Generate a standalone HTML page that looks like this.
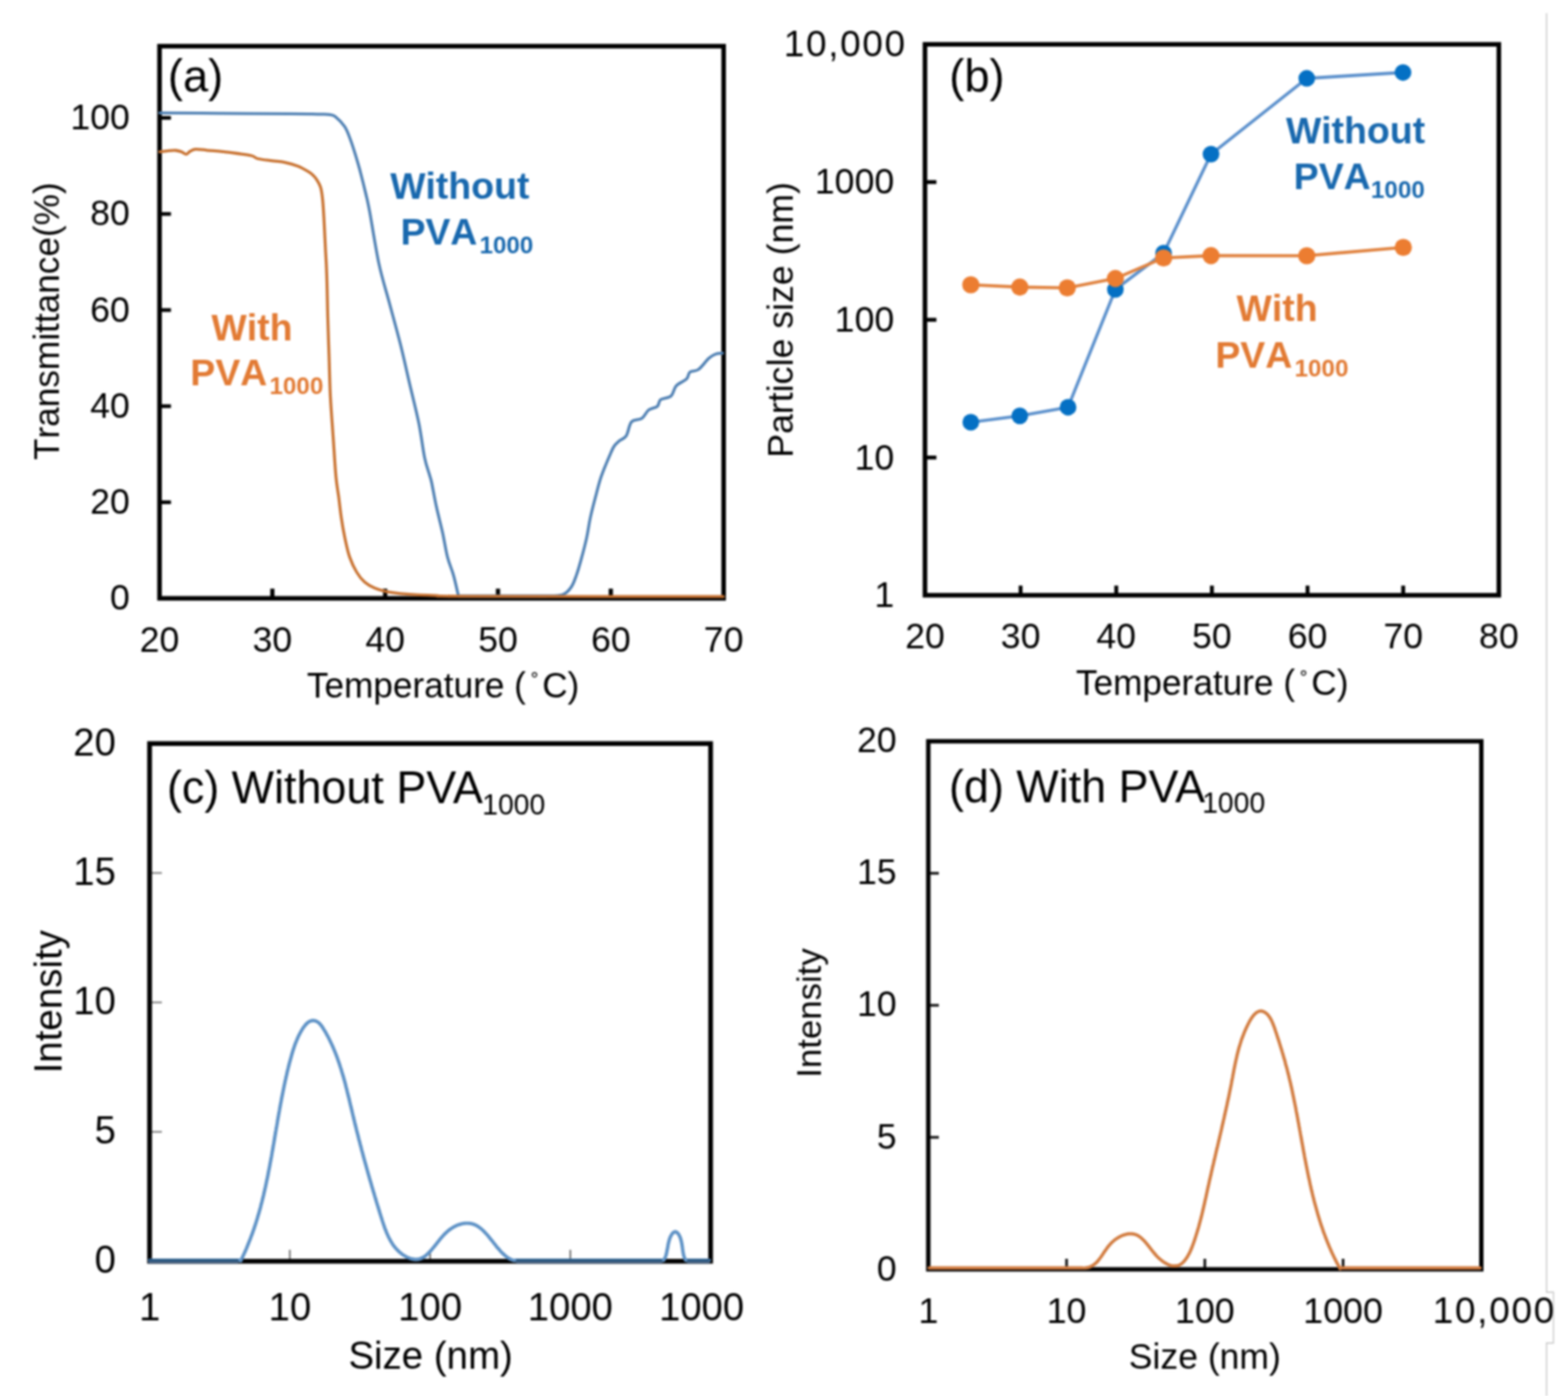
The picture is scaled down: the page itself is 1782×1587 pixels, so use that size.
<!DOCTYPE html>
<html><head><meta charset="utf-8"><title>Figure</title>
<style>
html,body{margin:0;padding:0;background:#fff;}
body{width:1782px;height:1587px;overflow:hidden;}
svg{display:block;filter:blur(0.8px);}
text{font-kerning:none;}
</style></head>
<body>
<svg width="1782" height="1587" viewBox="0 0 1782 1587">
<rect x="0" y="0" width="1782" height="1587" fill="#fff"/>
<line x1="309.52" y1="680.20" x2="309.52" y2="669.20" stroke="#000" stroke-width="4.80" stroke-linecap="butt"/>
<line x1="437.74" y1="680.20" x2="437.74" y2="669.20" stroke="#000" stroke-width="4.80" stroke-linecap="butt"/>
<line x1="565.96" y1="680.20" x2="565.96" y2="669.20" stroke="#000" stroke-width="4.80" stroke-linecap="butt"/>
<line x1="694.18" y1="680.20" x2="694.18" y2="669.20" stroke="#000" stroke-width="4.80" stroke-linecap="butt"/>
<line x1="181.30" y1="570.96" x2="194.30" y2="570.96" stroke="#000" stroke-width="4.20" stroke-linecap="butt"/>
<line x1="181.30" y1="461.72" x2="194.30" y2="461.72" stroke="#000" stroke-width="4.20" stroke-linecap="butt"/>
<line x1="181.30" y1="352.48" x2="194.30" y2="352.48" stroke="#000" stroke-width="4.20" stroke-linecap="butt"/>
<line x1="181.30" y1="243.24" x2="194.30" y2="243.24" stroke="#000" stroke-width="4.20" stroke-linecap="butt"/>
<line x1="181.30" y1="134.00" x2="194.30" y2="134.00" stroke="#000" stroke-width="4.20" stroke-linecap="butt"/>
<rect x="181.30" y="52.50" width="641.10" height="627.70" fill="none" stroke="#000" stroke-width="5.20"/>
<path d="M181.5 128.3 C192.9 128.4 225.2 128.6 250.0 128.8 C274.8 129.0 312.5 129.2 330.0 129.4 C347.5 129.6 348.8 129.6 355.0 129.7 C361.2 129.8 363.7 129.8 367.0 129.9 C370.3 130.0 372.7 130.0 375.0 130.4 C377.3 130.8 378.2 130.2 381.0 132.5 C383.8 134.8 388.9 139.7 391.7 143.9 C394.5 148.1 395.8 152.2 397.8 157.5 C399.8 162.8 401.8 169.0 403.8 175.6 C405.8 182.2 407.9 189.2 409.9 196.8 C411.9 204.4 414.2 213.8 415.9 221.0 C417.6 228.2 417.5 226.8 420.0 240.0 C422.5 253.2 426.9 282.4 430.7 300.0 C434.5 317.6 438.8 330.3 442.8 345.4 C446.8 360.5 451.1 375.6 454.9 390.7 C458.7 405.8 462.0 421.0 465.5 436.1 C469.0 451.2 473.3 467.5 476.1 481.5 C478.9 495.5 480.5 510.2 482.5 520.0 C484.5 529.8 486.9 535.3 488.2 540.0 C489.5 544.7 489.2 542.3 490.5 548.4 C491.8 554.5 494.0 567.2 496.1 576.7 C498.2 586.2 500.8 595.7 502.9 605.1 C505.0 614.5 506.5 625.2 508.6 633.4 C510.7 641.5 513.3 646.6 515.4 654.0 C517.5 661.4 520.1 673.6 521.0 677.5 L620.0 677.5 C623.2 677.2 634.6 677.7 639.5 676.0 C644.4 674.3 646.7 671.0 649.3 667.2 C651.9 663.5 653.2 659.0 655.2 653.5 C657.2 648.0 659.0 641.2 661.0 634.0 C663.0 626.8 665.3 618.0 666.9 610.5 C668.5 603.0 669.2 596.5 670.8 589.0 C672.4 581.5 674.6 573.1 676.6 565.6 C678.6 558.1 680.5 550.3 682.5 544.1 C684.5 537.9 686.4 533.4 688.4 528.5 C690.4 523.6 692.6 518.4 694.2 514.8 C695.8 511.2 696.5 509.3 698.1 507.0 C699.7 504.7 701.7 503.1 704.0 501.1 C706.3 499.2 709.5 498.9 711.8 495.3 C714.1 491.7 714.8 482.9 717.7 479.6 C720.6 476.3 726.1 478.0 729.4 475.7 C732.6 473.4 734.3 468.3 737.2 466.0 C740.1 463.7 744.7 464.0 747.0 462.0 C749.3 460.0 748.3 456.1 750.9 454.2 C753.5 452.2 759.7 452.9 762.6 450.3 C765.5 447.7 765.6 441.9 768.5 438.6 C771.4 435.4 777.6 433.4 780.2 430.8 C782.8 428.2 781.8 424.8 784.1 423.0 C786.4 421.2 790.3 422.6 793.9 420.0 C797.5 417.4 802.4 410.2 805.6 407.3 C808.9 404.4 810.8 403.5 813.4 402.5 C816.0 401.5 819.7 401.7 821.0 401.5" fill="none" stroke="#4f80b3" stroke-width="3.30" stroke-linejoin="round" stroke-linecap="round"/>
<path d="M181.5 172.6 C182.9 172.4 187.0 171.9 190.0 171.6 C193.0 171.3 197.0 170.8 199.7 171.0 C202.4 171.2 204.0 171.8 206.0 172.5 C208.0 173.2 210.1 175.4 211.8 175.3 C213.5 175.2 214.2 172.9 216.0 172.0 C217.8 171.1 219.1 169.8 222.3 169.6 C225.5 169.4 229.9 170.3 235.0 170.8 C240.1 171.3 246.8 171.8 252.6 172.4 C258.4 173.0 264.4 173.7 270.0 174.5 C275.6 175.3 282.0 176.0 285.9 177.0 C289.8 178.0 289.4 179.5 293.4 180.5 C297.4 181.5 304.9 182.1 310.0 182.8 C315.1 183.5 318.9 183.6 323.7 184.6 C328.5 185.6 334.3 187.2 338.8 189.0 C343.3 190.8 348.0 193.6 350.9 195.3 C353.8 197.1 354.5 198.0 356.0 199.5 C357.5 201.0 358.6 202.0 360.0 204.3 C361.4 206.6 363.4 209.4 364.5 213.4 C365.6 217.4 366.2 222.2 366.8 228.5 C367.4 234.8 367.8 242.4 368.3 251.2 C368.8 260.0 369.3 271.4 369.8 281.5 C370.3 291.6 370.9 298.5 371.3 311.7 C371.8 324.9 372.1 344.8 372.5 360.5 C372.9 376.2 373.5 390.8 374.0 405.9 C374.5 421.0 374.7 436.1 375.5 451.2 C376.3 466.3 377.6 481.5 378.6 496.6 C379.7 511.7 380.7 530.5 381.8 542.0 C382.9 553.5 384.0 557.7 385.0 565.4 C386.0 573.1 386.7 580.4 387.8 588.0 C388.9 595.6 390.2 603.2 391.8 610.8 C393.4 618.4 395.1 626.8 397.4 633.4 C399.7 640.0 402.5 645.8 405.4 650.5 C408.2 655.2 411.1 658.8 414.5 661.8 C417.9 664.8 421.7 666.8 425.8 668.6 C429.9 670.4 433.3 671.5 439.4 672.6 C445.4 673.7 452.7 674.6 462.1 675.4 C471.6 676.1 484.8 676.7 496.1 677.1 C507.4 677.5 475.7 677.7 530.0 677.9 C584.3 678.1 773.3 678.2 822.0 678.2" fill="none" stroke="#c8712f" stroke-width="3.30" stroke-linejoin="round" stroke-linecap="round"/>
<text x="147.60" y="693.40" text-anchor="end" fill="#000" style="font-family:'Liberation Sans',Arial,sans-serif;font-size:40.50px;">0</text>
<text x="147.60" y="584.16" text-anchor="end" fill="#000" style="font-family:'Liberation Sans',Arial,sans-serif;font-size:40.50px;">20</text>
<text x="147.60" y="474.92" text-anchor="end" fill="#000" style="font-family:'Liberation Sans',Arial,sans-serif;font-size:40.50px;">40</text>
<text x="147.60" y="365.68" text-anchor="end" fill="#000" style="font-family:'Liberation Sans',Arial,sans-serif;font-size:40.50px;">60</text>
<text x="147.60" y="256.44" text-anchor="end" fill="#000" style="font-family:'Liberation Sans',Arial,sans-serif;font-size:40.50px;">80</text>
<text x="147.60" y="147.20" text-anchor="end" fill="#000" style="font-family:'Liberation Sans',Arial,sans-serif;font-size:40.50px;">100</text>
<text x="181.30" y="741.30" text-anchor="middle" fill="#000" style="font-family:'Liberation Sans',Arial,sans-serif;font-size:40.50px;">20</text>
<text x="309.52" y="741.30" text-anchor="middle" fill="#000" style="font-family:'Liberation Sans',Arial,sans-serif;font-size:40.50px;">30</text>
<text x="437.74" y="741.30" text-anchor="middle" fill="#000" style="font-family:'Liberation Sans',Arial,sans-serif;font-size:40.50px;">40</text>
<text x="565.96" y="741.30" text-anchor="middle" fill="#000" style="font-family:'Liberation Sans',Arial,sans-serif;font-size:40.50px;">50</text>
<text x="694.18" y="741.30" text-anchor="middle" fill="#000" style="font-family:'Liberation Sans',Arial,sans-serif;font-size:40.50px;">60</text>
<text x="822.40" y="741.30" text-anchor="middle" fill="#000" style="font-family:'Liberation Sans',Arial,sans-serif;font-size:40.50px;">70</text>
<text fill="#000" style="font-family:'Liberation Sans',Arial,sans-serif;font-size:40.00px;font-kerning:normal;"><tspan x="348.70" y="793.00">Temperature (</tspan><tspan x="603.65" y="785.26" style="font-size:26.0px">˚</tspan><tspan x="616.17" y="793.00">C)</tspan></text>
<text transform="translate(66.70 522.90) rotate(-90)" x="0" y="0" fill="#000" style="font-family:'Liberation Sans',Arial,sans-serif;font-size:40.00px;">Transmittance(%)</text>
<text x="190.81" y="104.40" fill="#000" style="font-family:'Liberation Sans',Arial,sans-serif;font-size:51.50px;">(a)</text>
<text x="443.46" y="226.00" fill="#1868ae" style="font-family:'Liberation Sans',Arial,sans-serif;font-size:42.50px;font-weight:bold;">Without</text>
<text x="455.16" y="277.60" fill="#1868ae" style="font-family:'Liberation Sans',Arial,sans-serif;font-size:42.50px;font-weight:bold;">PVA</text>
<text x="544.97" y="288.00" fill="#1868ae" style="font-family:'Liberation Sans',Arial,sans-serif;font-size:27.50px;font-weight:bold;">1000</text>
<text x="240.36" y="386.50" fill="#e27a33" style="font-family:'Liberation Sans',Arial,sans-serif;font-size:42.50px;font-weight:bold;">With</text>
<text x="216.36" y="437.50" fill="#e27a33" style="font-family:'Liberation Sans',Arial,sans-serif;font-size:42.50px;font-weight:bold;">PVA</text>
<text x="306.27" y="448.30" fill="#e27a33" style="font-family:'Liberation Sans',Arial,sans-serif;font-size:27.50px;font-weight:bold;">1000</text>
<line x1="1159.90" y1="676.70" x2="1159.90" y2="665.70" stroke="#000" stroke-width="4.40" stroke-linecap="butt"/>
<line x1="1268.60" y1="676.70" x2="1268.60" y2="665.70" stroke="#000" stroke-width="4.40" stroke-linecap="butt"/>
<line x1="1377.30" y1="676.70" x2="1377.30" y2="665.70" stroke="#000" stroke-width="4.40" stroke-linecap="butt"/>
<line x1="1486.00" y1="676.70" x2="1486.00" y2="665.70" stroke="#000" stroke-width="4.40" stroke-linecap="butt"/>
<line x1="1594.70" y1="676.70" x2="1594.70" y2="665.70" stroke="#000" stroke-width="4.40" stroke-linecap="butt"/>
<line x1="1051.20" y1="520.12" x2="1064.20" y2="520.12" stroke="#000" stroke-width="4.40" stroke-linecap="butt"/>
<line x1="1051.20" y1="363.55" x2="1064.20" y2="363.55" stroke="#000" stroke-width="4.40" stroke-linecap="butt"/>
<line x1="1051.20" y1="206.98" x2="1064.20" y2="206.98" stroke="#000" stroke-width="4.40" stroke-linecap="butt"/>
<rect x="1051.20" y="50.40" width="652.20" height="626.30" fill="none" stroke="#000" stroke-width="5.20"/>
<path d="M1103.3 480.0 L1159.0 472.8 L1213.8 462.9 L1267.6 329.1 L1322.4 287.8 L1376.3 175.3 L1485.1 89.1 L1594.5 82.4" fill="none" stroke="#5b90cc" stroke-width="3.60" stroke-linejoin="round" stroke-linecap="round"/>
<circle cx="1103.3" cy="480.0" r="9.5" fill="#0470c4"/>
<circle cx="1159.0" cy="472.8" r="9.5" fill="#0470c4"/>
<circle cx="1213.8" cy="462.9" r="9.5" fill="#0470c4"/>
<circle cx="1267.6" cy="329.1" r="9.5" fill="#0470c4"/>
<circle cx="1322.4" cy="287.8" r="9.5" fill="#0470c4"/>
<circle cx="1376.3" cy="175.3" r="9.5" fill="#0470c4"/>
<circle cx="1485.1" cy="89.1" r="9.5" fill="#0470c4"/>
<circle cx="1594.5" cy="82.4" r="9.5" fill="#0470c4"/>
<path d="M1103.3 323.7 L1159.0 326.4 L1212.9 327.3 L1267.6 316.6 L1322.4 293.2 L1376.3 290.6 L1485.1 290.7 L1594.8 281.2" fill="none" stroke="#e0823f" stroke-width="3.60" stroke-linejoin="round" stroke-linecap="round"/>
<circle cx="1103.3" cy="323.7" r="9.8" fill="#ec7d31"/>
<circle cx="1159.0" cy="326.4" r="9.8" fill="#ec7d31"/>
<circle cx="1212.9" cy="327.3" r="9.8" fill="#ec7d31"/>
<circle cx="1267.6" cy="316.6" r="9.8" fill="#ec7d31"/>
<circle cx="1322.4" cy="293.2" r="9.8" fill="#ec7d31"/>
<circle cx="1376.3" cy="290.6" r="9.8" fill="#ec7d31"/>
<circle cx="1485.1" cy="290.7" r="9.8" fill="#ec7d31"/>
<circle cx="1594.8" cy="281.2" r="9.8" fill="#ec7d31"/>
<text x="890.68" y="63.60" fill="#000" style="font-family:'Liberation Sans',Arial,sans-serif;font-size:42.00px;letter-spacing:1.90px;">10,000</text>
<text x="1016.20" y="690.10" text-anchor="end" fill="#000" style="font-family:'Liberation Sans',Arial,sans-serif;font-size:40.50px;">1</text>
<text x="1016.20" y="533.52" text-anchor="end" fill="#000" style="font-family:'Liberation Sans',Arial,sans-serif;font-size:40.50px;">10</text>
<text x="1016.20" y="376.95" text-anchor="end" fill="#000" style="font-family:'Liberation Sans',Arial,sans-serif;font-size:40.50px;">100</text>
<text x="1016.20" y="220.38" text-anchor="end" fill="#000" style="font-family:'Liberation Sans',Arial,sans-serif;font-size:40.50px;">1000</text>
<text x="1051.20" y="736.90" text-anchor="middle" fill="#000" style="font-family:'Liberation Sans',Arial,sans-serif;font-size:40.50px;">20</text>
<text x="1159.90" y="736.90" text-anchor="middle" fill="#000" style="font-family:'Liberation Sans',Arial,sans-serif;font-size:40.50px;">30</text>
<text x="1268.60" y="736.90" text-anchor="middle" fill="#000" style="font-family:'Liberation Sans',Arial,sans-serif;font-size:40.50px;">40</text>
<text x="1377.30" y="736.90" text-anchor="middle" fill="#000" style="font-family:'Liberation Sans',Arial,sans-serif;font-size:40.50px;">50</text>
<text x="1486.00" y="736.90" text-anchor="middle" fill="#000" style="font-family:'Liberation Sans',Arial,sans-serif;font-size:40.50px;">60</text>
<text x="1594.70" y="736.90" text-anchor="middle" fill="#000" style="font-family:'Liberation Sans',Arial,sans-serif;font-size:40.50px;">70</text>
<text x="1703.40" y="736.90" text-anchor="middle" fill="#000" style="font-family:'Liberation Sans',Arial,sans-serif;font-size:40.50px;">80</text>
<text fill="#000" style="font-family:'Liberation Sans',Arial,sans-serif;font-size:40.00px;font-kerning:normal;"><tspan x="1222.80" y="790.40">Temperature (</tspan><tspan x="1477.75" y="782.66" style="font-size:26.0px">˚</tspan><tspan x="1490.27" y="790.40">C)</tspan></text>
<text transform="translate(900.80 520.33) rotate(-90)" x="0" y="0" fill="#000" style="font-family:'Liberation Sans',Arial,sans-serif;font-size:40.60px;">Particle size (nm)</text>
<text x="1078.81" y="104.20" fill="#000" style="font-family:'Liberation Sans',Arial,sans-serif;font-size:51.50px;">(b)</text>
<text x="1461.46" y="163.00" fill="#1868ae" style="font-family:'Liberation Sans',Arial,sans-serif;font-size:42.50px;font-weight:bold;">Without</text>
<text x="1470.36" y="215.00" fill="#1868ae" style="font-family:'Liberation Sans',Arial,sans-serif;font-size:42.50px;font-weight:bold;">PVA</text>
<text x="1558.07" y="225.40" fill="#1868ae" style="font-family:'Liberation Sans',Arial,sans-serif;font-size:27.50px;font-weight:bold;">1000</text>
<text x="1405.36" y="365.00" fill="#e27a33" style="font-family:'Liberation Sans',Arial,sans-serif;font-size:42.50px;font-weight:bold;">With</text>
<text x="1381.26" y="418.00" fill="#e27a33" style="font-family:'Liberation Sans',Arial,sans-serif;font-size:42.50px;font-weight:bold;">PVA</text>
<text x="1471.27" y="428.40" fill="#e27a33" style="font-family:'Liberation Sans',Arial,sans-serif;font-size:27.50px;font-weight:bold;">1000</text>
<line x1="329.40" y1="1433.80" x2="329.40" y2="1420.80" stroke="#666" stroke-width="1.80" stroke-linecap="butt"/>
<line x1="488.80" y1="1433.80" x2="488.80" y2="1420.80" stroke="#666" stroke-width="1.80" stroke-linecap="butt"/>
<line x1="648.20" y1="1433.80" x2="648.20" y2="1420.80" stroke="#666" stroke-width="1.80" stroke-linecap="butt"/>
<line x1="170.00" y1="1286.67" x2="184.00" y2="1286.67" stroke="#777" stroke-width="1.80" stroke-linecap="butt"/>
<line x1="170.00" y1="1139.55" x2="184.00" y2="1139.55" stroke="#777" stroke-width="1.80" stroke-linecap="butt"/>
<line x1="170.00" y1="992.42" x2="184.00" y2="992.42" stroke="#777" stroke-width="1.80" stroke-linecap="butt"/>
<rect x="170.00" y="845.30" width="637.60" height="588.50" fill="none" stroke="#000" stroke-width="5.40"/>
<path d="M170.0 1432.8 L272.6 1432.8 L273.5 1433.4 L274.2 1432.0 L274.9 1430.6 L275.5 1429.3 L276.2 1427.9 L276.8 1426.5 L277.4 1425.2 L278.1 1423.8 L278.7 1422.4 L279.3 1421.0 L279.9 1419.7 L280.5 1418.3 L281.0 1416.9 L281.6 1415.5 L282.2 1414.1 L282.7 1412.7 L283.3 1411.3 L283.8 1409.9 L284.4 1408.5 L284.9 1407.1 L285.4 1405.7 L286.0 1404.3 L286.5 1402.9 L287.0 1401.5 L287.5 1400.1 L288.0 1398.7 L288.5 1397.3 L289.0 1395.9 L289.4 1394.4 L289.9 1393.0 L290.4 1391.6 L290.8 1390.2 L291.3 1388.8 L291.7 1387.3 L292.2 1385.9 L292.6 1384.5 L293.0 1383.0 L293.4 1381.6 L293.9 1380.2 L294.3 1378.7 L294.7 1377.3 L295.1 1375.9 L295.5 1374.4 L295.9 1373.0 L296.3 1371.5 L296.6 1370.1 L297.0 1368.6 L297.4 1367.2 L297.8 1365.7 L298.1 1364.3 L298.5 1362.8 L298.9 1361.4 L299.2 1359.9 L299.6 1358.5 L299.9 1357.0 L300.2 1355.5 L300.6 1354.1 L300.9 1352.6 L301.2 1351.1 L301.6 1349.7 L301.9 1348.2 L302.2 1346.8 L302.5 1345.3 L302.8 1343.8 L303.1 1342.3 L303.5 1340.9 L303.8 1339.4 L304.1 1337.9 L304.4 1336.5 L304.7 1335.0 L304.9 1333.5 L305.2 1332.0 L305.5 1330.6 L305.8 1329.1 L306.1 1327.6 L306.4 1326.1 L306.7 1324.7 L306.9 1323.2 L307.2 1321.7 L307.5 1320.2 L307.8 1318.7 L308.0 1317.2 L308.3 1315.8 L308.6 1314.3 L308.8 1312.8 L309.1 1311.3 L309.3 1309.8 L309.6 1308.3 L309.9 1306.9 L310.1 1305.4 L310.4 1303.9 L310.6 1302.4 L310.9 1300.9 L311.2 1299.4 L311.4 1298.0 L311.7 1296.5 L311.9 1295.0 L312.2 1293.5 L312.4 1292.0 L312.7 1290.5 L312.9 1289.0 L313.2 1287.5 L313.4 1286.1 L313.7 1284.6 L313.9 1283.1 L314.2 1281.6 L314.5 1280.1 L314.7 1278.6 L315.0 1277.1 L315.2 1275.7 L315.5 1274.2 L315.7 1272.7 L316.0 1271.2 L316.3 1269.7 L316.5 1268.2 L316.8 1266.7 L317.0 1265.3 L317.3 1263.8 L317.6 1262.3 L317.8 1260.8 L318.1 1259.3 L318.4 1257.9 L318.6 1256.4 L318.9 1254.9 L319.2 1253.4 L319.5 1251.9 L319.7 1250.5 L320.0 1249.0 L320.3 1247.5 L320.6 1246.0 L320.9 1244.5 L321.2 1243.1 L321.5 1241.6 L321.8 1240.1 L322.1 1238.7 L322.4 1237.2 L322.7 1235.7 L323.0 1234.2 L323.3 1232.8 L323.6 1231.3 L323.9 1229.8 L324.2 1228.4 L324.6 1226.9 L324.9 1225.4 L325.2 1224.0 L325.6 1222.5 L325.9 1221.1 L326.2 1219.6 L326.6 1218.1 L326.9 1216.7 L327.3 1215.2 L327.6 1213.8 L328.0 1212.3 L328.4 1210.9 L328.7 1209.4 L329.1 1208.0 L329.5 1206.5 L329.9 1205.1 L330.3 1203.6 L330.7 1202.2 L331.1 1200.8 L331.5 1199.3 L331.9 1197.9 L332.3 1196.4 L332.8 1195.0 L333.2 1193.5 L333.7 1192.1 L334.2 1190.7 L334.7 1189.2 L335.2 1187.7 L335.7 1186.3 L336.3 1184.8 L336.9 1183.4 L337.5 1181.9 L338.2 1180.4 L338.8 1178.9 L339.5 1177.4 L340.3 1175.9 L341.1 1174.4 L341.9 1172.9 L342.7 1171.5 L343.5 1170.1 L344.4 1168.7 L345.3 1167.4 L346.3 1166.2 L347.2 1165.0 L348.2 1164.0 L349.2 1163.0 L350.2 1162.2 L351.2 1161.5 L352.3 1161.0 L353.3 1160.6 L354.4 1160.3 L355.4 1160.2 L356.5 1160.2 L357.6 1160.4 L358.6 1160.7 L359.7 1161.1 L360.7 1161.7 L361.7 1162.3 L362.7 1163.1 L363.6 1164.1 L364.5 1165.1 L365.4 1166.2 L366.2 1167.4 L367.0 1168.6 L367.8 1169.9 L368.6 1171.2 L369.4 1172.5 L370.2 1173.8 L370.9 1175.2 L371.6 1176.5 L372.4 1177.9 L373.1 1179.2 L373.8 1180.6 L374.5 1181.9 L375.1 1183.3 L375.8 1184.7 L376.4 1186.0 L377.1 1187.4 L377.7 1188.8 L378.3 1190.2 L378.9 1191.6 L379.5 1193.0 L380.1 1194.4 L380.7 1195.8 L381.2 1197.2 L381.8 1198.6 L382.3 1200.1 L382.9 1201.5 L383.4 1202.9 L383.9 1204.3 L384.4 1205.8 L384.9 1207.2 L385.4 1208.7 L385.9 1210.1 L386.4 1211.6 L386.8 1213.0 L387.3 1214.5 L387.8 1215.9 L388.2 1217.4 L388.6 1218.8 L389.1 1220.3 L389.5 1221.8 L389.9 1223.2 L390.4 1224.7 L390.8 1226.2 L391.2 1227.6 L391.6 1229.1 L392.0 1230.6 L392.4 1232.1 L392.8 1233.5 L393.1 1235.0 L393.5 1236.5 L393.9 1238.0 L394.3 1239.4 L394.6 1240.9 L395.0 1242.4 L395.4 1243.9 L395.7 1245.4 L396.1 1246.8 L396.5 1248.3 L396.8 1249.8 L397.2 1251.3 L397.5 1252.7 L397.9 1254.2 L398.2 1255.7 L398.6 1257.2 L398.9 1258.6 L399.3 1260.1 L399.6 1261.6 L400.0 1263.1 L400.3 1264.5 L400.7 1266.0 L401.0 1267.4 L401.4 1268.9 L401.7 1270.4 L402.1 1271.8 L402.4 1273.3 L402.8 1274.7 L403.1 1276.2 L403.5 1277.6 L403.8 1279.1 L404.2 1280.5 L404.6 1282.0 L404.9 1283.4 L405.3 1284.9 L405.6 1286.3 L406.0 1287.8 L406.4 1289.2 L406.7 1290.6 L407.1 1292.1 L407.5 1293.5 L407.8 1295.0 L408.2 1296.4 L408.6 1297.8 L409.0 1299.3 L409.3 1300.7 L409.7 1302.1 L410.1 1303.6 L410.5 1305.0 L410.8 1306.4 L411.2 1307.9 L411.6 1309.3 L412.0 1310.7 L412.4 1312.1 L412.7 1313.6 L413.1 1315.0 L413.5 1316.4 L413.9 1317.9 L414.3 1319.3 L414.7 1320.7 L415.1 1322.1 L415.5 1323.6 L415.9 1325.0 L416.3 1326.4 L416.7 1327.9 L417.1 1329.3 L417.5 1330.7 L417.9 1332.2 L418.3 1333.6 L418.7 1335.0 L419.1 1336.5 L419.5 1337.9 L419.9 1339.3 L420.3 1340.8 L420.7 1342.2 L421.2 1343.6 L421.6 1345.1 L422.0 1346.5 L422.4 1348.0 L422.8 1349.4 L423.3 1350.9 L423.7 1352.3 L424.1 1353.7 L424.5 1355.2 L425.0 1356.6 L425.4 1358.1 L425.8 1359.5 L426.3 1361.0 L426.7 1362.5 L427.2 1363.9 L427.6 1365.4 L428.0 1366.8 L428.5 1368.3 L428.9 1369.8 L429.4 1371.2 L429.8 1372.7 L430.3 1374.2 L430.7 1375.7 L431.2 1377.1 L431.6 1378.6 L432.1 1380.1 L432.6 1381.6 L433.0 1383.1 L433.5 1384.5 L434.0 1386.0 L434.4 1387.5 L434.9 1389.0 L435.4 1390.5 L435.9 1392.0 L436.4 1393.4 L436.9 1394.9 L437.4 1396.4 L438.0 1397.8 L438.6 1399.3 L439.1 1400.7 L439.7 1402.1 L440.3 1403.5 L441.0 1404.9 L441.6 1406.3 L442.3 1407.6 L443.0 1408.9 L443.7 1410.3 L444.4 1411.5 L445.2 1412.8 L446.0 1414.1 L446.8 1415.3 L447.7 1416.5 L448.6 1417.6 L449.5 1418.8 L450.5 1419.9 L451.5 1420.9 L452.5 1422.0 L453.6 1423.0 L454.7 1423.9 L455.8 1424.9 L457.0 1425.8 L458.2 1426.6 L459.5 1427.4 L460.8 1428.2 L462.1 1428.9 L463.4 1429.5 L464.7 1430.0 L466.0 1430.5 L467.4 1430.9 L468.7 1431.3 L470.1 1431.5 L471.4 1431.7 L472.7 1431.7 L474.0 1431.7 L475.3 1431.5 L476.5 1431.3 L477.7 1430.9 L478.9 1430.4 L480.1 1429.9 L481.2 1429.2 L482.4 1428.5 L483.5 1427.7 L484.6 1426.8 L485.6 1425.8 L486.7 1424.8 L487.8 1423.8 L488.8 1422.6 L489.9 1421.5 L490.9 1420.3 L491.9 1419.0 L493.0 1417.8 L494.0 1416.5 L495.0 1415.2 L496.1 1413.9 L497.1 1412.5 L498.2 1411.2 L499.2 1409.9 L500.3 1408.6 L501.4 1407.3 L502.5 1406.0 L503.6 1404.7 L504.7 1403.5 L505.9 1402.3 L507.1 1401.2 L508.3 1400.1 L509.5 1399.0 L510.7 1398.1 L512.0 1397.1 L513.3 1396.3 L514.6 1395.4 L515.9 1394.7 L517.2 1394.0 L518.5 1393.4 L519.9 1392.8 L521.2 1392.3 L522.6 1391.8 L523.9 1391.5 L525.3 1391.1 L526.7 1390.9 L528.0 1390.7 L529.4 1390.6 L530.7 1390.6 L532.0 1390.6 L533.4 1390.7 L534.7 1390.9 L536.0 1391.2 L537.3 1391.5 L538.5 1391.9 L539.8 1392.4 L541.0 1393.0 L542.2 1393.6 L543.3 1394.4 L544.5 1395.1 L545.6 1396.0 L546.8 1396.9 L547.9 1397.9 L549.0 1398.9 L550.0 1399.9 L551.1 1401.0 L552.2 1402.2 L553.2 1403.3 L554.3 1404.5 L555.3 1405.7 L556.3 1407.0 L557.3 1408.2 L558.3 1409.5 L559.4 1410.8 L560.4 1412.1 L561.4 1413.4 L562.4 1414.6 L563.4 1415.9 L564.4 1417.2 L565.4 1418.4 L566.5 1419.6 L567.5 1420.8 L568.5 1422.0 L569.6 1423.2 L570.6 1424.3 L571.7 1425.3 L572.8 1426.3 L573.9 1427.3 L575.0 1428.2 L576.1 1429.0 L577.2 1429.8 L578.4 1430.6 L579.6 1431.2 L580.8 1431.8 L582.0 1432.3 L583.3 1432.7 L584.5 1433.0 L585.0 1432.8 L754.0 1432.8 L754.1 1432.6 L754.9 1431.6 L755.5 1430.5 L756.1 1429.2 L756.6 1427.9 L757.1 1426.4 L757.5 1424.8 L757.8 1423.2 L758.1 1421.5 L758.5 1419.8 L758.8 1418.1 L759.1 1416.3 L759.4 1414.5 L759.8 1412.8 L760.2 1411.1 L760.7 1409.4 L761.2 1407.8 L761.8 1406.3 L762.5 1404.9 L763.3 1403.6 L764.0 1402.5 L764.8 1401.6 L765.7 1400.9 L766.5 1400.5 L767.3 1400.3 L768.2 1400.4 L769.0 1400.8 L769.8 1401.5 L770.6 1402.3 L771.4 1403.4 L772.0 1404.6 L772.7 1406.0 L773.3 1407.5 L773.8 1409.1 L774.2 1410.7 L774.6 1412.5 L774.9 1414.2 L775.2 1416.0 L775.5 1417.8 L775.7 1419.5 L776.0 1421.3 L776.2 1423.0 L776.5 1424.6 L776.8 1426.2 L777.2 1427.7 L777.6 1429.1 L778.1 1430.4 L778.7 1431.6 L779.4 1432.6 L779.5 1432.8 L806.0 1432.8" fill="none" stroke="#5e92c6" stroke-width="3.90" stroke-linejoin="round" stroke-linecap="round"/>
<line x1="168.50" y1="1432.60" x2="271.00" y2="1432.60" stroke="#24527c" stroke-width="2.60" stroke-linecap="butt"/>
<line x1="168.50" y1="1435.40" x2="271.00" y2="1435.40" stroke="#4c6482" stroke-width="2.20" stroke-linecap="butt"/>
<line x1="586.50" y1="1432.60" x2="752.50" y2="1432.60" stroke="#24527c" stroke-width="2.60" stroke-linecap="butt"/>
<line x1="586.50" y1="1435.40" x2="752.50" y2="1435.40" stroke="#4c6482" stroke-width="2.20" stroke-linecap="butt"/>
<line x1="781.00" y1="1432.60" x2="806.50" y2="1432.60" stroke="#24527c" stroke-width="2.60" stroke-linecap="butt"/>
<line x1="781.00" y1="1435.40" x2="806.50" y2="1435.40" stroke="#4c6482" stroke-width="2.20" stroke-linecap="butt"/>
<text x="131.60" y="1447.20" text-anchor="end" fill="#000" style="font-family:'Liberation Sans',Arial,sans-serif;font-size:43.50px;">0</text>
<text x="131.60" y="1300.08" text-anchor="end" fill="#000" style="font-family:'Liberation Sans',Arial,sans-serif;font-size:43.50px;">5</text>
<text x="131.60" y="1152.95" text-anchor="end" fill="#000" style="font-family:'Liberation Sans',Arial,sans-serif;font-size:43.50px;">10</text>
<text x="131.60" y="1005.82" text-anchor="end" fill="#000" style="font-family:'Liberation Sans',Arial,sans-serif;font-size:43.50px;">15</text>
<text x="131.60" y="858.70" text-anchor="end" fill="#000" style="font-family:'Liberation Sans',Arial,sans-serif;font-size:43.50px;">20</text>
<text x="170.00" y="1500.50" text-anchor="middle" fill="#000" style="font-family:'Liberation Sans',Arial,sans-serif;font-size:43.50px;">1</text>
<text x="329.40" y="1500.50" text-anchor="middle" fill="#000" style="font-family:'Liberation Sans',Arial,sans-serif;font-size:43.50px;">10</text>
<text x="488.80" y="1500.50" text-anchor="middle" fill="#000" style="font-family:'Liberation Sans',Arial,sans-serif;font-size:43.50px;">100</text>
<text x="648.20" y="1500.50" text-anchor="middle" fill="#000" style="font-family:'Liberation Sans',Arial,sans-serif;font-size:43.50px;">1000</text>
<text x="748.99" y="1500.50" fill="#000" style="font-family:'Liberation Sans',Arial,sans-serif;font-size:43.50px;">1000</text>
<text x="395.92" y="1555.60" fill="#000" style="font-family:'Liberation Sans',Arial,sans-serif;font-size:43.70px;">Size (nm)</text>
<text transform="translate(69.70 1220.34) rotate(-90)" x="0" y="0" fill="#000" style="font-family:'Liberation Sans',Arial,sans-serif;font-size:43.80px;">Intensity</text>
<text x="189.74" y="912.90" fill="#000" style="font-family:'Liberation Sans',Arial,sans-serif;font-size:51.00px;font-kerning:normal;">(c) Without PVA</text>
<text x="547.94" y="925.50" fill="#000" style="font-family:'Liberation Sans',Arial,sans-serif;font-size:32.30px;">1000</text>
<line x1="1212.12" y1="1443.00" x2="1212.12" y2="1431.00" stroke="#111" stroke-width="3.00" stroke-linecap="butt"/>
<line x1="1369.25" y1="1443.00" x2="1369.25" y2="1431.00" stroke="#111" stroke-width="3.00" stroke-linecap="butt"/>
<line x1="1526.38" y1="1443.00" x2="1526.38" y2="1431.00" stroke="#111" stroke-width="3.00" stroke-linecap="butt"/>
<line x1="1055.00" y1="1292.92" x2="1067.00" y2="1292.92" stroke="#111" stroke-width="3.00" stroke-linecap="butt"/>
<line x1="1055.00" y1="1142.85" x2="1067.00" y2="1142.85" stroke="#111" stroke-width="3.00" stroke-linecap="butt"/>
<line x1="1055.00" y1="992.77" x2="1067.00" y2="992.77" stroke="#111" stroke-width="3.00" stroke-linecap="butt"/>
<rect x="1055.00" y="842.70" width="628.50" height="600.30" fill="none" stroke="#000" stroke-width="5.00"/>
<path d="M1056.0 1441.4 L1230.0 1441.4 L1229.9 1441.5 L1231.7 1441.5 L1233.4 1441.4 L1235.0 1441.2 L1236.5 1440.9 L1237.9 1440.4 L1239.3 1439.9 L1240.6 1439.3 L1241.8 1438.6 L1243.0 1437.8 L1244.1 1437.0 L1245.1 1436.1 L1246.2 1435.1 L1247.2 1434.1 L1248.1 1433.0 L1249.0 1431.8 L1249.9 1430.7 L1250.8 1429.5 L1251.7 1428.2 L1252.5 1427.0 L1253.4 1425.7 L1254.2 1424.4 L1255.1 1423.1 L1256.0 1421.8 L1256.9 1420.6 L1257.8 1419.3 L1258.7 1418.0 L1259.7 1416.8 L1260.7 1415.6 L1261.7 1414.4 L1262.8 1413.2 L1263.9 1412.1 L1265.1 1411.1 L1266.3 1410.0 L1267.6 1409.1 L1268.9 1408.2 L1270.2 1407.3 L1271.5 1406.5 L1272.8 1405.8 L1274.2 1405.1 L1275.6 1404.5 L1277.0 1404.0 L1278.4 1403.6 L1279.7 1403.2 L1281.1 1402.9 L1282.5 1402.7 L1283.9 1402.6 L1285.2 1402.6 L1286.6 1402.6 L1287.9 1402.8 L1289.2 1403.1 L1290.5 1403.5 L1291.7 1403.9 L1292.9 1404.5 L1294.1 1405.2 L1295.2 1406.0 L1296.4 1406.8 L1297.5 1407.8 L1298.5 1408.8 L1299.6 1409.8 L1300.7 1410.9 L1301.7 1412.1 L1302.7 1413.3 L1303.8 1414.6 L1304.8 1415.8 L1305.8 1417.1 L1306.8 1418.4 L1307.9 1419.8 L1308.9 1421.1 L1309.9 1422.4 L1311.0 1423.7 L1312.1 1425.0 L1313.1 1426.2 L1314.2 1427.5 L1315.4 1428.7 L1316.5 1429.8 L1317.7 1430.9 L1318.9 1431.9 L1320.1 1432.9 L1321.3 1433.8 L1322.5 1434.7 L1323.7 1435.5 L1325.0 1436.2 L1326.2 1436.9 L1327.4 1437.5 L1328.7 1438.0 L1329.9 1438.4 L1331.1 1438.8 L1332.3 1439.0 L1333.5 1439.2 L1334.7 1439.2 L1335.9 1439.2 L1337.0 1439.1 L1338.1 1438.9 L1339.2 1438.5 L1340.2 1438.1 L1341.3 1437.6 L1342.3 1436.9 L1343.2 1436.2 L1344.2 1435.4 L1345.1 1434.5 L1345.9 1433.6 L1346.8 1432.5 L1347.6 1431.4 L1348.5 1430.2 L1349.2 1429.0 L1350.0 1427.7 L1350.7 1426.4 L1351.5 1425.0 L1352.2 1423.6 L1352.9 1422.1 L1353.5 1420.6 L1354.2 1419.1 L1354.8 1417.5 L1355.4 1415.9 L1356.0 1414.3 L1356.6 1412.7 L1357.1 1411.1 L1357.7 1409.5 L1358.2 1407.9 L1358.7 1406.3 L1359.2 1404.7 L1359.7 1403.1 L1360.2 1401.5 L1360.7 1399.9 L1361.2 1398.4 L1361.6 1396.8 L1362.1 1395.3 L1362.5 1393.8 L1362.9 1392.2 L1363.3 1390.7 L1363.7 1389.2 L1364.1 1387.7 L1364.5 1386.3 L1364.9 1384.8 L1365.3 1383.3 L1365.6 1381.9 L1366.0 1380.4 L1366.3 1378.9 L1366.7 1377.5 L1367.0 1376.1 L1367.4 1374.6 L1367.7 1373.2 L1368.0 1371.8 L1368.4 1370.3 L1368.7 1368.9 L1369.0 1367.5 L1369.3 1366.1 L1369.6 1364.7 L1369.9 1363.3 L1370.3 1361.9 L1370.6 1360.4 L1370.9 1359.0 L1371.2 1357.6 L1371.5 1356.2 L1371.8 1354.8 L1372.1 1353.4 L1372.4 1352.0 L1372.7 1350.6 L1373.1 1349.1 L1373.4 1347.7 L1373.7 1346.3 L1374.0 1344.9 L1374.3 1343.4 L1374.6 1342.0 L1375.0 1340.6 L1375.3 1339.1 L1375.6 1337.7 L1376.0 1336.3 L1376.3 1334.8 L1376.6 1333.4 L1376.9 1331.9 L1377.3 1330.5 L1377.6 1329.0 L1377.9 1327.6 L1378.3 1326.1 L1378.6 1324.7 L1379.0 1323.2 L1379.3 1321.8 L1379.6 1320.3 L1380.0 1318.8 L1380.3 1317.4 L1380.7 1315.9 L1381.0 1314.4 L1381.4 1313.0 L1381.7 1311.5 L1382.0 1310.0 L1382.4 1308.6 L1382.7 1307.1 L1383.1 1305.6 L1383.4 1304.2 L1383.8 1302.7 L1384.1 1301.2 L1384.5 1299.7 L1384.8 1298.2 L1385.2 1296.8 L1385.5 1295.3 L1385.9 1293.8 L1386.2 1292.3 L1386.5 1290.8 L1386.9 1289.4 L1387.2 1287.9 L1387.6 1286.4 L1387.9 1284.9 L1388.3 1283.4 L1388.6 1281.9 L1388.9 1280.5 L1389.3 1279.0 L1389.6 1277.5 L1390.0 1276.0 L1390.3 1274.5 L1390.6 1273.0 L1391.0 1271.5 L1391.3 1270.1 L1391.6 1268.6 L1392.0 1267.1 L1392.3 1265.6 L1392.6 1264.1 L1393.0 1262.6 L1393.3 1261.1 L1393.6 1259.7 L1393.9 1258.2 L1394.3 1256.7 L1394.6 1255.2 L1394.9 1253.7 L1395.2 1252.2 L1395.5 1250.8 L1395.9 1249.3 L1396.2 1247.8 L1396.5 1246.3 L1396.8 1244.8 L1397.1 1243.4 L1397.4 1241.9 L1397.7 1240.4 L1398.0 1238.9 L1398.3 1237.5 L1398.6 1236.0 L1398.9 1234.5 L1399.2 1233.1 L1399.5 1231.6 L1399.7 1230.1 L1400.0 1228.6 L1400.3 1227.2 L1400.6 1225.7 L1400.9 1224.3 L1401.1 1222.8 L1401.4 1221.3 L1401.7 1219.9 L1402.0 1218.4 L1402.2 1217.0 L1402.5 1215.5 L1402.8 1214.1 L1403.1 1212.6 L1403.4 1211.1 L1403.7 1209.7 L1404.0 1208.2 L1404.3 1206.8 L1404.6 1205.3 L1404.9 1203.9 L1405.3 1202.4 L1405.6 1201.0 L1405.9 1199.5 L1406.3 1198.1 L1406.7 1196.6 L1407.0 1195.2 L1407.4 1193.7 L1407.8 1192.3 L1408.2 1190.8 L1408.6 1189.4 L1409.1 1188.0 L1409.5 1186.5 L1410.0 1185.1 L1410.4 1183.6 L1410.9 1182.2 L1411.4 1180.7 L1412.0 1179.3 L1412.5 1177.8 L1413.1 1176.4 L1413.6 1174.9 L1414.2 1173.5 L1414.8 1172.0 L1415.5 1170.6 L1416.1 1169.1 L1416.8 1167.7 L1417.5 1166.2 L1418.2 1164.8 L1418.9 1163.3 L1419.7 1161.9 L1420.4 1160.5 L1421.2 1159.2 L1422.1 1157.8 L1422.9 1156.6 L1423.8 1155.4 L1424.6 1154.3 L1425.5 1153.3 L1426.5 1152.4 L1427.4 1151.5 L1428.4 1150.8 L1429.4 1150.3 L1430.4 1149.8 L1431.4 1149.5 L1432.4 1149.4 L1433.5 1149.4 L1434.5 1149.6 L1435.6 1149.9 L1436.7 1150.4 L1437.7 1151.0 L1438.8 1151.8 L1439.8 1152.6 L1440.7 1153.6 L1441.6 1154.6 L1442.5 1155.8 L1443.3 1157.0 L1444.0 1158.3 L1444.8 1159.6 L1445.4 1161.0 L1446.1 1162.5 L1446.7 1164.0 L1447.3 1165.5 L1447.9 1167.1 L1448.5 1168.7 L1449.0 1170.2 L1449.5 1171.8 L1450.1 1173.4 L1450.6 1175.0 L1451.1 1176.5 L1451.6 1178.1 L1452.1 1179.6 L1452.6 1181.1 L1453.1 1182.6 L1453.6 1184.1 L1454.1 1185.7 L1454.5 1187.1 L1455.0 1188.6 L1455.4 1190.1 L1455.9 1191.6 L1456.4 1193.1 L1456.8 1194.5 L1457.2 1196.0 L1457.7 1197.4 L1458.1 1198.9 L1458.5 1200.3 L1458.9 1201.8 L1459.3 1203.2 L1459.8 1204.6 L1460.2 1206.1 L1460.6 1207.5 L1460.9 1208.9 L1461.3 1210.4 L1461.7 1211.8 L1462.1 1213.2 L1462.5 1214.6 L1462.9 1216.0 L1463.2 1217.5 L1463.6 1218.9 L1463.9 1220.3 L1464.3 1221.7 L1464.7 1223.2 L1465.0 1224.6 L1465.3 1226.0 L1465.7 1227.4 L1466.0 1228.9 L1466.4 1230.3 L1466.7 1231.7 L1467.0 1233.2 L1467.3 1234.6 L1467.7 1236.1 L1468.0 1237.5 L1468.3 1239.0 L1468.6 1240.4 L1468.9 1241.9 L1469.2 1243.3 L1469.5 1244.8 L1469.8 1246.2 L1470.1 1247.7 L1470.4 1249.1 L1470.7 1250.6 L1471.0 1252.1 L1471.3 1253.5 L1471.6 1255.0 L1471.9 1256.5 L1472.2 1257.9 L1472.5 1259.4 L1472.8 1260.9 L1473.0 1262.3 L1473.3 1263.8 L1473.6 1265.3 L1473.9 1266.8 L1474.2 1268.2 L1474.4 1269.7 L1474.7 1271.2 L1475.0 1272.7 L1475.2 1274.2 L1475.5 1275.6 L1475.8 1277.1 L1476.1 1278.6 L1476.3 1280.1 L1476.6 1281.6 L1476.9 1283.1 L1477.1 1284.5 L1477.4 1286.0 L1477.7 1287.5 L1477.9 1289.0 L1478.2 1290.5 L1478.5 1292.0 L1478.7 1293.5 L1479.0 1294.9 L1479.3 1296.4 L1479.5 1297.9 L1479.8 1299.4 L1480.1 1300.9 L1480.4 1302.4 L1480.6 1303.9 L1480.9 1305.4 L1481.2 1306.9 L1481.4 1308.4 L1481.7 1309.8 L1482.0 1311.3 L1482.3 1312.8 L1482.5 1314.3 L1482.8 1315.8 L1483.1 1317.3 L1483.4 1318.8 L1483.7 1320.3 L1484.0 1321.8 L1484.2 1323.2 L1484.5 1324.7 L1484.8 1326.2 L1485.1 1327.7 L1485.4 1329.2 L1485.7 1330.7 L1486.0 1332.2 L1486.3 1333.6 L1486.6 1335.1 L1486.9 1336.6 L1487.2 1338.1 L1487.5 1339.6 L1487.9 1341.0 L1488.2 1342.5 L1488.5 1344.0 L1488.8 1345.5 L1489.1 1346.9 L1489.5 1348.4 L1489.8 1349.9 L1490.1 1351.4 L1490.5 1352.8 L1490.8 1354.3 L1491.2 1355.8 L1491.5 1357.2 L1491.9 1358.7 L1492.2 1360.2 L1492.6 1361.6 L1493.0 1363.1 L1493.3 1364.5 L1493.7 1366.0 L1494.1 1367.4 L1494.5 1368.9 L1494.9 1370.3 L1495.3 1371.8 L1495.7 1373.2 L1496.1 1374.7 L1496.5 1376.1 L1496.9 1377.6 L1497.3 1379.0 L1497.7 1380.5 L1498.1 1381.9 L1498.6 1383.3 L1499.0 1384.8 L1499.4 1386.2 L1499.9 1387.6 L1500.3 1389.0 L1500.8 1390.5 L1501.2 1391.9 L1501.7 1393.3 L1502.2 1394.7 L1502.7 1396.1 L1503.2 1397.5 L1503.6 1398.9 L1504.1 1400.3 L1504.6 1401.7 L1505.2 1403.1 L1505.7 1404.5 L1506.2 1405.9 L1506.7 1407.3 L1507.3 1408.7 L1507.8 1410.1 L1508.4 1411.5 L1508.9 1412.9 L1509.5 1414.2 L1510.0 1415.6 L1510.6 1417.0 L1511.2 1418.3 L1511.8 1419.7 L1512.4 1421.1 L1513.0 1422.4 L1513.6 1423.8 L1514.2 1425.1 L1514.9 1426.5 L1515.5 1427.8 L1516.1 1429.1 L1516.8 1430.5 L1517.5 1431.8 L1518.1 1433.1 L1518.8 1434.5 L1519.5 1435.8 L1520.2 1437.1 L1520.9 1438.4 L1521.6 1439.7 L1522.3 1441.0 L1523.0 1442.3 L1524.4 1441.4 L1682.0 1441.4" fill="none" stroke="#d27c40" stroke-width="3.70" stroke-linejoin="round" stroke-linecap="round"/>
<text x="1019.00" y="1455.60" text-anchor="end" fill="#000" style="font-family:'Liberation Sans',Arial,sans-serif;font-size:40.50px;">0</text>
<text x="1019.00" y="1305.52" text-anchor="end" fill="#000" style="font-family:'Liberation Sans',Arial,sans-serif;font-size:40.50px;">5</text>
<text x="1019.00" y="1155.45" text-anchor="end" fill="#000" style="font-family:'Liberation Sans',Arial,sans-serif;font-size:40.50px;">10</text>
<text x="1019.00" y="1005.38" text-anchor="end" fill="#000" style="font-family:'Liberation Sans',Arial,sans-serif;font-size:40.50px;">15</text>
<text x="1019.00" y="855.30" text-anchor="end" fill="#000" style="font-family:'Liberation Sans',Arial,sans-serif;font-size:40.50px;">20</text>
<text x="1055.00" y="1503.60" text-anchor="middle" fill="#000" style="font-family:'Liberation Sans',Arial,sans-serif;font-size:40.80px;">1</text>
<text x="1212.12" y="1503.60" text-anchor="middle" fill="#000" style="font-family:'Liberation Sans',Arial,sans-serif;font-size:40.80px;">10</text>
<text x="1369.25" y="1503.60" text-anchor="middle" fill="#000" style="font-family:'Liberation Sans',Arial,sans-serif;font-size:40.80px;">100</text>
<text x="1526.38" y="1503.60" text-anchor="middle" fill="#000" style="font-family:'Liberation Sans',Arial,sans-serif;font-size:40.80px;">1000</text>
<text x="1628.30" y="1504.20" fill="#000" style="font-family:'Liberation Sans',Arial,sans-serif;font-size:42.00px;letter-spacing:1.90px;">10,000</text>
<text x="1282.87" y="1555.60" fill="#000" style="font-family:'Liberation Sans',Arial,sans-serif;font-size:40.40px;">Size (nm)</text>
<text transform="translate(932.50 1225.35) rotate(-90)" x="0" y="0" fill="#000" style="font-family:'Liberation Sans',Arial,sans-serif;font-size:39.60px;">Intensity</text>
<text x="1078.54" y="912.20" fill="#000" style="font-family:'Liberation Sans',Arial,sans-serif;font-size:51.00px;font-kerning:normal;">(d) With PVA</text>
<text x="1366.14" y="924.20" fill="#000" style="font-family:'Liberation Sans',Arial,sans-serif;font-size:32.30px;">1000</text>
<path d="M1757.6 15 V1469 H1765.5 V1526.8 H1757.6 V1587" fill="none" stroke="#c8c8c8" stroke-width="1.4"/>
</svg>
</body></html>
